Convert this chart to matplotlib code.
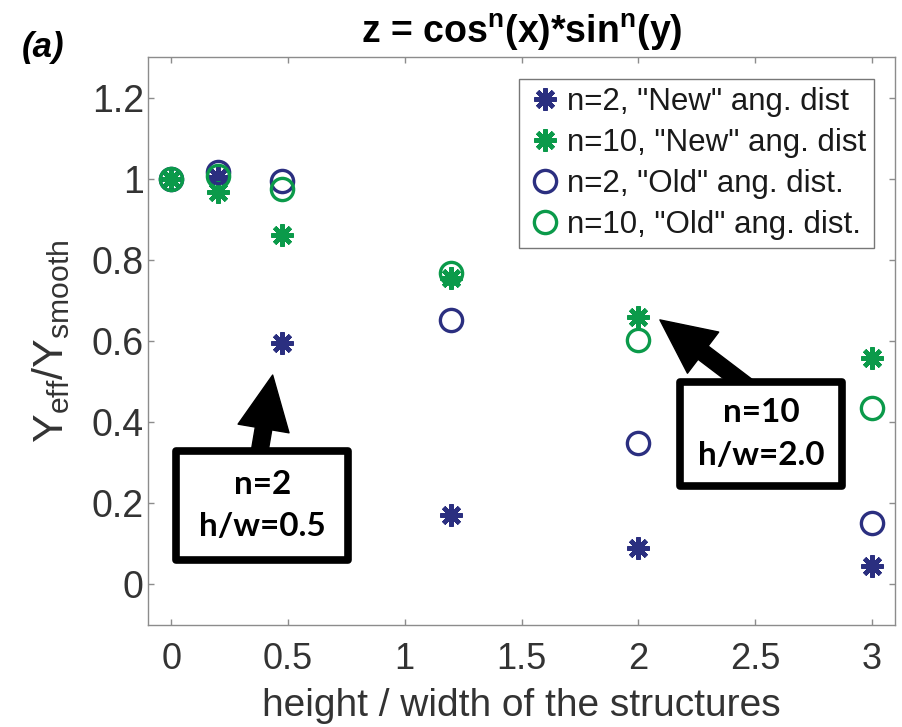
import matplotlib
matplotlib.use("Agg")
import matplotlib.pyplot as plt
from matplotlib.patches import Rectangle
from matplotlib.ticker import FixedLocator, FuncFormatter

plt.rcParams['font.family'] = ['Liberation Sans', 'DejaVu Sans']
plt.rcParams['mathtext.fontset'] = 'custom'
plt.rcParams['mathtext.rm'] = 'Liberation Sans'
plt.rcParams['mathtext.it'] = 'Liberation Sans:italic'
plt.rcParams['mathtext.bf'] = 'Liberation Sans:bold'

# ---- data ----
hw = [0, 0.2, 0.475, 1.2, 2.0, 3.0]
n2_new = [1.0, 1.005, 0.596, 0.172, 0.09, 0.045]
n10_new = [1.0, 0.967, 0.862, 0.755, 0.66, 0.557]
n2_old = [1.0, 1.016, 0.994, 0.652, 0.348, 0.152]
n10_old = [1.0, 1.006, 0.975, 0.768, 0.602, 0.434]
labels = ['n=2, "New" ang. dist', 'n=10, "New" ang. dist',
          'n=2, "Old" ang. dist.', 'n=10, "Old" ang. dist.']
xticks = [0, 0.5, 1, 1.5, 2, 2.5, 3]
yticks = [0, 0.2, 0.4, 0.6, 0.8, 1.0, 1.2]

navy = '#2b2f80'
green = '#0b9a4a'
txtcol = '#333333'

fig = plt.figure(figsize=(9.02, 7.27), dpi=100)
ax = fig.add_axes([148/902, 1-625/727, (895-148)/902, (625-57)/727])

star = (8, 2, 0)
ax.plot(hw, n2_new, linestyle='none', marker=star, ms=16, mew=3.2, color=navy, label=labels[0])
ax.plot(hw, n10_new, linestyle='none', marker=star, ms=16, mew=3.2, color=green, label=labels[1])
ax.plot(hw, n2_old, linestyle='none', marker='o', ms=16, mew=2.4, mfc='none', color=navy, label=labels[2])
ax.plot(hw, n10_old, linestyle='none', marker='o', ms=16, mew=2.4, mfc='none', color=green, label=labels[3])

ax.set_xlim(-0.1, 3.1)
ax.set_ylim(-0.1, 1.3)
ax.xaxis.set_major_locator(FixedLocator(xticks))
ax.yaxis.set_major_locator(FixedLocator(yticks))
fmt = FuncFormatter(lambda v, p: '%g' % v)
ax.xaxis.set_major_formatter(fmt)
ax.yaxis.set_major_formatter(fmt)

axcol = '#8c8c8c'
for s in ax.spines.values():
    s.set_color(axcol)
    s.set_linewidth(1.0)
ax.tick_params(direction='in', length=4.5, width=1.0, color=axcol,
               top=True, right=True, labelsize=26, labelcolor=txtcol)
ax.tick_params(axis='x', pad=12)
ax.tick_params(axis='y', pad=3, labelsize=27)

ax.set_xlabel('height / width of the structures', fontsize=28, color=txtcol, labelpad=8)
ax.set_ylabel(r'Y$_{\mathrm{eff}}$/Y$_{\mathrm{smooth}}$', fontsize=31, color=txtcol, labelpad=14)
ax.set_title(r'z = cos$^{\mathbf{n}}$(x)*sin$^{\mathbf{n}}$(y)', fontsize=27, fontweight='bold', pad=10)
fig.text(22/902, 1-47/727, '(a)', fontsize=25, fontweight='bold', fontstyle='italic', va='center', ha='left')

leg = ax.legend(loc='upper right', bbox_to_anchor=(0.972, 0.961), borderaxespad=0,
                fontsize=22.5, frameon=True, fancybox=False, edgecolor='#555555',
                handlelength=1.2, handletextpad=0.1, labelspacing=0.35, borderpad=0.25)
leg.get_frame().set_linewidth(1.0)
for t in leg.get_texts():
    t.set_color('#1a1a1a')

# ---- annotations ----
def box(x0, y0, x1, y1, text, tip, tail):
    ax.annotate('', xy=tip, xytext=tail, xycoords='data', textcoords='data',
                arrowprops=dict(arrowstyle='simple,head_length=0.65,head_width=0.62,tail_width=0.2',
                                mutation_scale=60, fc='black', ec='black', lw=1,
                                shrinkA=0, shrinkB=0), zorder=4)
    r = Rectangle((x0, y0), x1-x0, y1-y0, fc='white', ec='black', lw=5.5,
                  joinstyle='round', zorder=5)
    ax.add_patch(r)
    ax.text((x0+x1)/2, (y0+y1)/2, text, ha='center', va='center', fontsize=24,
            fontweight='bold', family=['Lato', 'DejaVu Sans'], linespacing=1.55, zorder=6)

box(0.021, 0.061, 0.757, 0.328, 'n=2\nh/w=0.5', (0.434, 0.516), (0.37, 0.30))
box(2.179, 0.242, 2.872, 0.500, 'n=10\nh/w=2.0', (2.093, 0.652), (2.51, 0.47))

fig.savefig('out.png', dpi=100)
